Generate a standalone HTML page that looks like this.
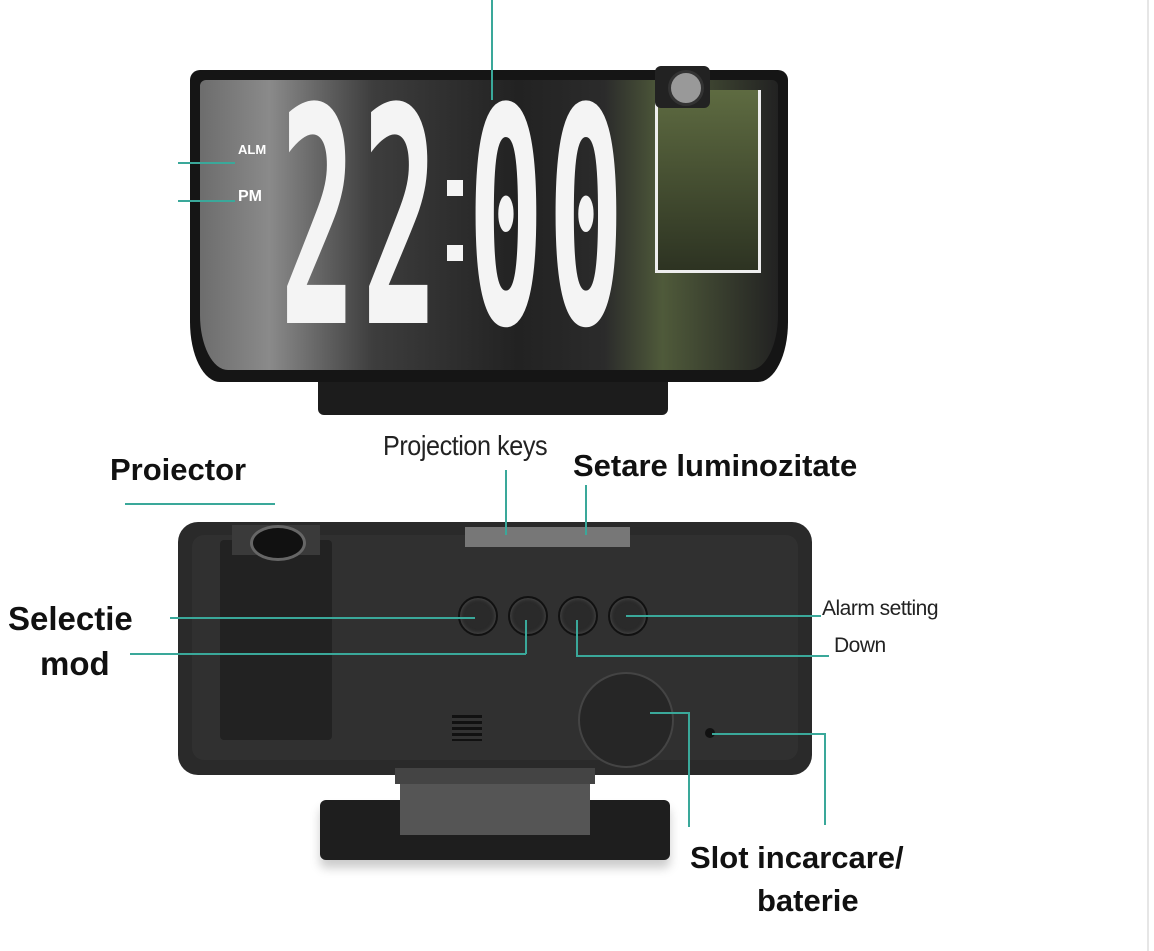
<!DOCTYPE html>
<html><head><meta charset="utf-8"><style>
body{margin:0;width:1154px;height:951px;background:#fff;position:relative;overflow:hidden;font-family:"Liberation Sans",sans-serif}
.a{position:absolute}
.lbl{position:absolute;font-weight:bold;font-size:31px;color:#111;white-space:nowrap}
.thin{position:absolute;font-size:21px;color:#222;white-space:nowrap;letter-spacing:-0.5px}
.btn{position:absolute;width:36px;height:36px;border-radius:50%;background:#2a2a2a;border:2px solid #111;box-shadow:inset 0 0 4px #555}
.dg{position:absolute;top:70px;font-family:'DejaVu Sans Mono',monospace;font-weight:bold;font-size:300px;line-height:300px;color:#f4f4f4;transform:scaleX(0.42);transform-origin:left top}
</style></head><body>
<div class="a" style="left:1147px;top:0;width:2px;height:951px;background:#e6e6e6"></div>

<!-- top clock -->
<div class="a" style="left:318px;top:330px;width:350px;height:85px;background:#1c1c1c;border-radius:10px 10px 6px 6px"></div>
<div class="a" style="left:400px;top:330px;width:200px;height:50px;background:#0a0a0a"></div>
<div class="a" style="left:190px;top:70px;width:598px;height:312px;background:#151515;border-radius:10px 10px 30px 30px/10px 10px 60px 60px"></div>
<div class="a" style="left:200px;top:80px;width:578px;height:290px;background:linear-gradient(90deg,#6d6d6d 0%,#8a8a8a 12%,#3d3d3d 30%,#222 55%,#2b2b2b 70%,#4f5a3a 80%,#222 100%);border-radius:6px 6px 28px 28px/6px 6px 55px 55px"></div>
<div class="a" style="left:655px;top:90px;width:100px;height:180px;background:linear-gradient(180deg,#5e6b41,#2d3322);border:3px solid #eee;border-top:none"></div>
<div class="a" style="left:655px;top:66px;width:55px;height:42px;background:#222;border-radius:6px"></div>
<div class="a" style="left:668px;top:70px;width:30px;height:30px;border-radius:50%;background:#999;border:3px solid #333"></div>
<div class="dg" style="left:280px">2</div>
<div class="dg" style="left:362px">2</div>
<div class="a" style="left:447px;top:180px;width:16px;height:16px;background:#f4f4f4"></div>
<div class="a" style="left:447px;top:245px;width:16px;height:16px;background:#f4f4f4"></div>
<div class="dg" style="left:468px">0</div>
<div class="dg" style="left:548px">0</div>
<div class="a" style="left:238px;top:142px;color:#fff;font-size:13px;font-weight:bold">ALM</div>
<div class="a" style="left:238px;top:188px;color:#fff;font-size:16px;font-weight:bold">PM</div>
<div class="a" style="left:491px;top:0;width:2px;height:100px;background:#3aa89a"></div>
<div class="a" style="left:178px;top:162px;width:57px;height:1.5px;background:#3aa89a"></div>
<div class="a" style="left:178px;top:200px;width:57px;height:1.5px;background:#3aa89a"></div>

<!-- labels -->
<div class="lbl" style="left:110px;top:452px">Proiector</div>
<div class="thin" style="left:383px;top:430px;font-size:28px;transform:scaleX(0.9);transform-origin:left">Projection keys</div>
<div class="lbl" style="left:573px;top:448px">Setare luminozitate</div>
<div class="lbl" style="left:8px;top:600px;font-size:33px">Selectie</div>
<div class="lbl" style="left:40px;top:645px;font-size:33px">mod</div>
<div class="thin" style="left:822px;top:597px">Alarm setting</div>
<div class="thin" style="left:834px;top:634px">Down</div>
<div class="lbl" style="left:690px;top:840px">Slot incarcare/</div>
<div class="lbl" style="left:757px;top:883px">baterie</div>

<!-- bottom clock -->
<div class="a" style="left:320px;top:800px;width:350px;height:60px;background:#1e1e1e;border-radius:6px;box-shadow:0 8px 10px #ccc"></div>
<div class="a" style="left:400px;top:775px;width:190px;height:60px;background:#555"></div>
<div class="a" style="left:178px;top:522px;width:634px;height:253px;background:#2a2a2a;border-radius:20px"></div>
<div class="a" style="left:192px;top:535px;width:606px;height:225px;background:#303030;border-radius:12px"></div>
<div class="a" style="left:220px;top:540px;width:112px;height:200px;background:#222;border-radius:4px"></div>
<div class="a" style="left:232px;top:525px;width:88px;height:30px;background:#3a3a3a"></div>
<div class="a" style="left:250px;top:525px;width:50px;height:30px;border-radius:50%;background:#111;border:3px solid #666"></div>
<div class="a" style="left:465px;top:527px;width:165px;height:20px;background:#777"></div>
<div class="a" style="left:395px;top:768px;width:200px;height:16px;background:#444"></div>
<div class="btn" style="left:458px;top:596px"></div>
<div class="btn" style="left:508px;top:596px"></div>
<div class="btn" style="left:558px;top:596px"></div>
<div class="btn" style="left:608px;top:596px"></div>
<div class="a" style="left:578px;top:672px;width:92px;height:92px;border-radius:50%;background:#262626;border:2px solid #444"></div>
<div class="a" style="left:452px;top:715px;width:30px;height:26px;background:repeating-linear-gradient(#111 0 3px,#333 3px 6px)"></div>
<div class="a" style="left:705px;top:728px;width:10px;height:10px;border-radius:50%;background:#111"></div>

<!-- connectors -->
<div class="a" style="left:125px;top:503px;width:150px;height:1.5px;background:#3aa89a"></div>
<div class="a" style="left:505px;top:470px;width:1.5px;height:65px;background:#3aa89a"></div>
<div class="a" style="left:585px;top:485px;width:1.5px;height:50px;background:#3aa89a"></div>
<div class="a" style="left:170px;top:617px;width:305px;height:1.5px;background:#3aa89a"></div>
<div class="a" style="left:130px;top:653px;width:396px;height:1.5px;background:#3aa89a"></div>
<div class="a" style="left:525px;top:620px;width:1.5px;height:34px;background:#3aa89a"></div>
<div class="a" style="left:626px;top:615px;width:195px;height:1.5px;background:#3aa89a"></div>
<div class="a" style="left:576px;top:655px;width:253px;height:1.5px;background:#3aa89a"></div>
<div class="a" style="left:576px;top:620px;width:1.5px;height:36px;background:#3aa89a"></div>
<div class="a" style="left:650px;top:712px;width:38px;height:1.5px;background:#3aa89a"></div>
<div class="a" style="left:688px;top:712px;width:1.5px;height:115px;background:#3aa89a"></div>
<div class="a" style="left:712px;top:733px;width:113px;height:1.5px;background:#3aa89a"></div>
<div class="a" style="left:824px;top:733px;width:1.5px;height:92px;background:#3aa89a"></div>
</body></html>
